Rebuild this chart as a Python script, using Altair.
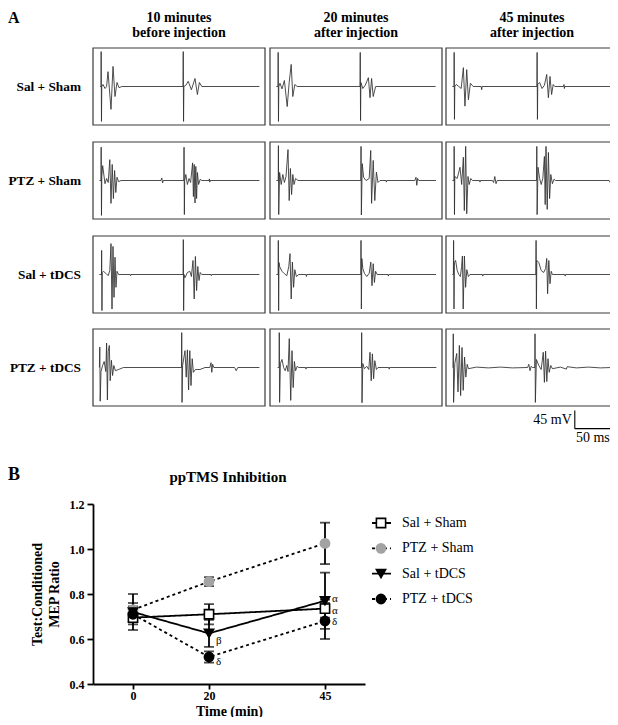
import altair as alt
import pandas as pd

FONT = "Liberation Serif"

# ---------------- data ----------------
groups = ["Sal + Sham", "PTZ + Sham", "Sal + tDCS", "PTZ + tDCS"]
col_titles = [["10 minutes", "before injection"],
              ["20 minutes", "after injection"],
              ["45 minutes", "after injection"]]

# EMG traces: (time ms, amplitude mV)
t_ss_10 = [(1,0),(2,0),(2.2,87),(2.6,-87),(3,0),(4.5,5),(7,-5),(9,0),(10.75,37),(14.5,-57),(17,50),(19.5,-25),(22,10),(24.5,-3),(28,0),
           (104.5,0),(104.8,87),(105.2,-87),(105.6,0),(108,3),(111,13),(115,-8),(119.5,20),(122.5,-20),(125,10),(128,0),(200,0)]
t_ss_20 = [(0,0),(2,0),(2.2,85),(2.6,-87),(3,0),(4.5,8),(7,-6),(10,15),(13.5,-50),(16,10),(18.5,55),(20.5,-25),(23,5),(26,0),
           (104.5,0),(104.8,85),(105.2,-85),(105.6,10),(108,-5),(111,3),(115,22),(117,-28),(119,20),(121,-25),(124,0),(199,0)]
t_ss_45 = [(0,0),(2,0),(2.2,85),(2.6,-82),(3,0),(5,5),(8,0),(11,-5),(13.7,47),(15.7,-49),(17.9,42),(20,-33),(22.5,8),(26,0),
           (36,0),(36.6,-8),(37.2,0),(105.6,0),(105.9,85),(106.3,-82),(106.7,5),(109,10),(112,-5),(115,3),(117.9,30),(120,-28),
           (122,25),(124,-20),(126,5),(128,0),(139,0),(139.5,5),(140,-5),(140.5,0),(199,0)]

t_ps_10 = [(0,0),(2,0),(2.2,83),(2.6,-87),(3,10),(4.1,37),(7,-8),(9,5),(11,-5),(13,52),(14.5,-57),(16,40),(17.5,-45),(19,25),
           (20.5,-30),(22,8),(24,-3),(27,0),(77,0),(78,6),(79,-6),(80,0),(105.5,0),(105.8,83),(106.2,-85),(106.6,0),(108,15),
           (110,-10),(112,5),(114,-5),(116.5,44),(117.5,-40),(118.5,40),(119.5,-56),(120.5,35),(121.5,-45),(122.5,20),(124,-10),
           (126,3),(128,0),(137,0),(137.5,4),(138,-4),(138.5,0),(200,0)]
t_ps_20 = [(0,0),(2.3,0),(2.5,87),(2.9,-85),(4,20),(6,-10),(8,15),(10,-5),(12,10),(14.5,77),(16,-50),(17.5,30),(19,-35),(20.5,15),
           (22,-10),(24,5),(27,0),(105.5,0),(105.8,85),(106.2,-86),(107.3,42),(109,8),(112,0),(116,5),(117.9,75),(119,-57),
           (121,50),(123,-50),(125,21),(127,-5),(129.5,0),(137,0),(137.5,-4),(138,0),(173,0),(174.5,8),(175.5,-12),(176.5,5),
           (178,0),(199.5,0)]
t_ps_45 = [(0,0),(2,0),(2.2,85),(2.6,-85),(3,10),(6,5),(9.5,33),(11.6,-10),(13.7,58),(14.9,-75),(16.6,85),(17.9,-83),(19.5,10),
           (21,-10),(23,5),(25,0),(34,0),(34.5,-4),(35,0),(50,0),(51.5,-5),(53,10),(54.5,-8),(56,0),(105.2,0),(105.5,85),
           (105.9,-85),(107,33),(109,5),(111,-10),(113,5),(115,60),(116,-60),(117,85),(118.5,-72),(120,70),(121.5,-45),(123,15),
           (125,-8),(127,3),(129,0),(196,0),(198,-8),(199,-5)]

t_st_10 = [(0,0),(2.6,0),(2.8,60),(3.2,-90),(3.6,5),(5,8),(8,3),(11,-3),(13,10),(14.5,77),(15.75,-86),(17,70),(18.25,-57),
           (19.5,43),(20.7,-32),(22,8),(24,0),(38.5,0),(39,-3),(39.5,0),(104.6,0),(104.9,87),(105.3,-90),(105.8,0),(107,-8),
           (110,5),(113,8),(115,-5),(117,35),(118.5,-61),(120,45),(121.5,-40),(123,20),(124.5,-15),(126,5),(128,0),(139.5,0),
           (140,-3),(140.5,0),(200,0)]
t_st_20 = [(0,0),(2.2,0),(2.4,85),(2.8,-90),(3.2,30),(4,20),(7,8),(10,2),(13,-3),(15.5,20),(17,52),(18.5,-61),(20,31),
           (21.5,-32),(23,12),(25,-5),(28,0),(37,0),(37.5,-5),(38,0),(105.5,0),(105.75,85),(106.2,-86),(106.8,40),(108,15),
           (110,3),(113,-5),(116,3),(118,31),(119.5,-28),(121,27),(122.5,-20),(124,8),(126,0),(139.5,0),(140,-4),(140.5,0),
           (199.5,0)]
t_st_45 = [(0,0),(1.2,0),(1.5,85),(2,-86),(2.5,30),(4,35),(6,10),(8,0),(10,-5),(11.5,20),(12.5,46),(13.5,-86),(15,46),
           (16.5,-32),(18,12),(20,-5),(22,0),(37.5,0),(38,-4),(38.5,0),(104.3,0),(104.6,85),(105,-86),(105.5,35),(108,30),
           (111,10),(114,5),(116.5,15),(117.9,40),(119,-48),(120.5,35),(122,-23),(123.5,8),(125,0),(140.5,0),(141,-4),
           (141.5,0),(199,0)]

t_pt_10 = [(0,0),(0.5,51),(1,-84),(2,-10),(4,5),(6,15),(8,-10),(9,61),(10,-81),(11,40),(12.4,55),(13.5,-33),(15,18),(16.5,-20),
           (18,5),(20,-8),(24,-5),(30,0),(102.6,0),(102.9,87),(103.3,-87),(104,5),(107,42),(108.5,-24),(110,44),(111.5,-56),
           (113,42),(114.5,-45),(116,22),(117.5,-12),(120,-5),(125.75,-5),(132,0),(138,0),(139.5,12),(140.5,-12),(141.5,8),
           (143,0),(169,0),(171,-8),(173,0),(200,0)]
t_pt_20 = [(1.6,0),(3.4,0),(3.6,87),(4,-87),(5,10),(7,20),(9,0),(11,-8),(13,5),(14.5,-10),(16.1,72),(17.9,-82),(19.5,42),
           (21,-50),(22.5,15),(24,-8),(26,3),(28,0),(36.5,0),(37,-4),(37.5,0),(106.3,0),(106.6,87),(107,-88),(108,10),(110,-3),
           (113,3),(115.5,-5),(117,38),(118.5,-33),(120,34),(121.5,-28),(123,17),(125,-5),(127,0),(140.5,0),(141,-4),
           (141.5,0),(200,0)]
t_pt_45 = [(0.4,0),(0.8,0),(1.1,84),(1.5,-87),(3,10),(5.4,35),(7,-61),(8.7,55),(10.3,-70),(12,50),(13.5,-57),(15.2,26),
           (16.8,-24),(18.5,8),(20,-3),(30,1),(45,-1),(60,1),(75,-1),(94,0),(95.5,8),(97,-8),(98.5,3),(100,0),(103,0),
           (103.25,84),(103.7,-87),(105,20),(108,5),(111,-5),(113.6,38),(115,-37),(116.5,41),(118,-35),(119.5,22),(121,-12),
           (123,5),(125,-3),(135,1),(142.5,-4),(143.5,2),(155,-1),(170,1),(185,-1),(199,0)]

traces = [[t_ss_10, t_ss_20, t_ss_45],
          [t_ps_10, t_ps_20, t_ps_45],
          [t_st_10, t_st_20, t_st_45],
          [t_pt_10, t_pt_20, t_pt_45]]

scale_ms = 50
scale_mv = 45

# ppTMS inhibition (mean, SEM)
times = [0, 20, 45]
sal_sham_mean = [0.695, 0.71, 0.735]
sal_sham_sem = [0.03, 0.045, 0.04]
ptz_sham_mean = [0.73, 0.855, 1.025]
ptz_sham_sem = [0.03, 0.02, 0.092]
sal_tdcs_mean = [0.72, 0.625, 0.77]
sal_tdcs_sem = [0.08, 0.06, 0.125]
ptz_tdcs_mean = [0.71, 0.52, 0.68]
ptz_tdcs_sem = [0.035, 0.025, 0.08]

greek_labels = ["β", "δ", "α", "α", "δ"]
greek_times = [20, 20, 45, 45, 45]
greek_pos = [0.59, 0.498, 0.776, 0.726, 0.676]

# ---------------- layout ----------------
W, H = 602, 676
box_lefts = [85, 262, 438]
box_tops = [40, 134, 228, 321]
box_w, box_h = 172, 77
t_dom = [-8, 207]
v_dom = [-96, 96]

layers = []
dummy = pd.DataFrame({"a": [0]})


def label(text, x, y, size, weight="normal", align="center", baseline="middle", lh=None):
    kw = dict(text=text, font=FONT, fontSize=size, fontWeight=weight, align=align,
              baseline=baseline, color="black")
    if lh:
        kw["lineHeight"] = lh
    return alt.Chart(dummy).mark_text(**kw).encode(x=alt.value(x), y=alt.value(y))


for r in range(4):
    for c in range(3):
        L, T = box_lefts[c], box_tops[r]
        xs = alt.Scale(domain=t_dom, range=[L, L + box_w], nice=False, zero=False)
        ys = alt.Scale(domain=v_dom, range=[T + box_h, T], nice=False, zero=False)
        frame_df = pd.DataFrame({"t0": [t_dom[0]], "t1": [t_dom[1]], "v0": [v_dom[0]], "v1": [v_dom[1]]})
        frame = alt.Chart(frame_df).mark_rect(filled=False, color="#3a3a3a", strokeWidth=1.2).encode(
            x=alt.X("t0:Q", scale=xs, axis=None), x2="t1:Q",
            y=alt.Y("v0:Q", scale=ys, axis=None), y2="v1:Q")
        df = pd.DataFrame(traces[r][c], columns=["t", "v"])
        df["i"] = range(len(df))
        tr = alt.Chart(df).mark_line(color="#2e2e2e", strokeWidth=0.85).encode(
            x=alt.X("t:Q", scale=xs, axis=None),
            y=alt.Y("v:Q", scale=ys, axis=None),
            order="i:Q")
        parts = [frame, tr]
        if r == 3 and c == 2:
            t0 = 153
            v0 = -152.5
            bar_df = pd.DataFrame({"t0": [t0, t0], "t1": [t0, t0 + scale_ms],
                                   "v0": [v0, v0], "v1": [v0 + scale_mv, v0]})
            bar = alt.Chart(bar_df).mark_rule(color="black", strokeWidth=1.1).encode(
                x=alt.X("t0:Q", scale=xs, axis=None), x2="t1:Q",
                y=alt.Y("v0:Q", scale=ys, axis=None), y2="v1:Q")
            txt_df = pd.DataFrame({"t": [t0, t0 + scale_ms], "v": [v0 + scale_mv / 2, v0],
                                   "lab": [f"{scale_mv} mV", f"{scale_ms} ms"]})
            mv = alt.Chart(txt_df.iloc[[0]]).mark_text(font=FONT, fontSize=14, align="right", dx=-3,
                                                      baseline="middle", color="black").encode(
                x=alt.X("t:Q", scale=xs, axis=None), y=alt.Y("v:Q", scale=ys, axis=None), text="lab")
            ms = alt.Chart(txt_df.iloc[[1]]).mark_text(font=FONT, fontSize=14, align="right", dx=-5, dy=9,
                                                      baseline="middle", color="black").encode(
                x=alt.X("t:Q", scale=xs, axis=None), y=alt.Y("v:Q", scale=ys, axis=None), text="lab")
            parts += [bar, mv, ms]
        layers.append(alt.layer(*parts))

# ---------------- panel B ----------------
means = [sal_sham_mean, ptz_sham_mean, sal_tdcs_mean, ptz_tdcs_mean]
sems = [sal_sham_sem, ptz_sham_sem, sal_tdcs_sem, ptz_tdcs_sem]
rows = []
for g, m, s in zip(groups, means, sems):
    for t, mm, ss in zip(times, m, s):
        rows.append({"group": g, "time": t, "mean": mm, "lo": mm - ss, "hi": mm + ss})
dfB = pd.DataFrame(rows)

bx = alt.Scale(domain=[-10.5, 0, 20, 45, 53.6], range=[85, 125, 201, 317, 357], nice=False, zero=False)
by = alt.Scale(domain=[0.4, 1.2], range=[676, 496], nice=False, zero=False)

axis_common = dict(labelFont=FONT, labelFontWeight="bold", labelFontSize=12, labelColor="black",
                   domainColor="black", domainWidth=1.8, tickColor="black", tickWidth=1.8,
                   titleFont=FONT, titleFontSize=14, titleFontWeight="bold", titleColor="black", grid=False)
x_axis = alt.Axis(orient="bottom", values=times, format="d", title="Time (min)", tickSize=5, labelPadding=1,
                  titlePadding=3, **axis_common)
y_axis = alt.Axis(orient="left", offset=-85, values=[0.4, 0.6, 0.8, 1.0, 1.2], format=".1f",
                  title=["Test:Conditioned", "MEP Ratio"], titleLineHeight=17, tickSize=6, labelPadding=3,
                  titlePadding=8, **axis_common)

X = alt.X("time:Q", scale=bx, axis=x_axis)


def Y(field):
    return alt.Y(f"{field}:Q", scale=by, axis=y_axis)


dash = alt.StrokeDash("group:N", scale=alt.Scale(domain=groups, range=[[1, 0], [3, 3], [1, 0], [3, 3]]), legend=None)
shape = alt.Shape("group:N", scale=alt.Scale(domain=groups, range=["square", "circle", "triangle-down", "circle"]), legend=None)
fill = alt.Fill("group:N", scale=alt.Scale(domain=groups, range=["white", "#a3a3a3", "black", "black"]), legend=None)
stroke = alt.Stroke("group:N", scale=alt.Scale(domain=groups, range=["black", "#a3a3a3", "black", "black"]), legend=None)

b_lines = alt.Chart(dfB).mark_line(color="black", strokeWidth=1.8).encode(x=X, y=Y("mean"), detail="group:N", strokeDash=dash)
b_err = alt.Chart(dfB).mark_rule(color="black", strokeWidth=1.8).encode(x=X, y=Y("lo"), y2="hi:Q")
b_cap_lo = alt.Chart(dfB).mark_tick(color="black", orient="horizontal", size=10, thickness=1.8).encode(x=X, y=Y("lo"))
b_cap_hi = alt.Chart(dfB).mark_tick(color="black", orient="horizontal", size=10, thickness=1.8).encode(x=X, y=Y("hi"))
b_pts = alt.Chart(dfB).mark_point(filled=True, size=85, strokeWidth=1.6, opacity=1).encode(
    x=X, y=Y("mean"), shape=shape, fill=fill, stroke=stroke)
greek_df = pd.DataFrame({"time": greek_times, "ypos": greek_pos, "lab": greek_labels})
b_greek = alt.Chart(greek_df).mark_text(font=FONT, fontSize=11, align="left", dx=7, baseline="middle",
                                        color="black").encode(x=X, y=Y("ypos"), text="lab:N")
layers.append(alt.layer(b_lines, b_err, b_cap_lo, b_cap_hi, b_pts, b_greek))

# legend (drawn as marks on its own point scale)
leg_df = pd.DataFrame({"group": groups})
LY = alt.Y("group:N", scale=alt.Scale(type="point", domain=groups, range=[515, 591], padding=0), axis=None)
leg_line = alt.Chart(leg_df).mark_rule(color="black", strokeWidth=1.8).encode(
    x=alt.value(364), x2=alt.value(383), y=LY, strokeDash=dash)
leg_pt = alt.Chart(leg_df).mark_point(filled=True, size=85, strokeWidth=1.6, opacity=1).encode(
    x=alt.value(373), y=LY, shape=shape, fill=fill, stroke=stroke)
leg_txt = alt.Chart(leg_df).mark_text(font=FONT, fontSize=14, align="left", baseline="middle", color="black").encode(
    x=alt.value(394), y=LY, text="group:N")
layers.append(alt.layer(leg_line, leg_pt, leg_txt))

# ---------------- text ----------------
layers.append(label("A", 0, 15, 16, "bold", align="left", baseline="alphabetic"))
for c in range(3):
    layers.append(label(col_titles[c], box_lefts[c] + box_w / 2, 10, 14, "bold", baseline="middle", lh=15))
row_centers = [box_tops[r] + box_h / 2 for r in range(4)]
for r in range(4):
    layers.append(label(groups[r], 73, row_centers[r], 13.3, "bold", align="right"))
layers.append(label("B", 0, 467, 18, "bold", align="left"))
layers.append(label("ppTMS Inhibition", 220, 469, 15, "bold"))

chart = alt.layer(*layers).resolve_scale(x="independent", y="independent").properties(
    width=W, height=H, autosize=alt.AutoSizeParams(type="none"),
    padding={"left": 0, "top": 0, "right": 0, "bottom": 33}
).configure_view(stroke=None)

chart.save("out.html", embed_options={"renderer": "svg", "actions": False})
